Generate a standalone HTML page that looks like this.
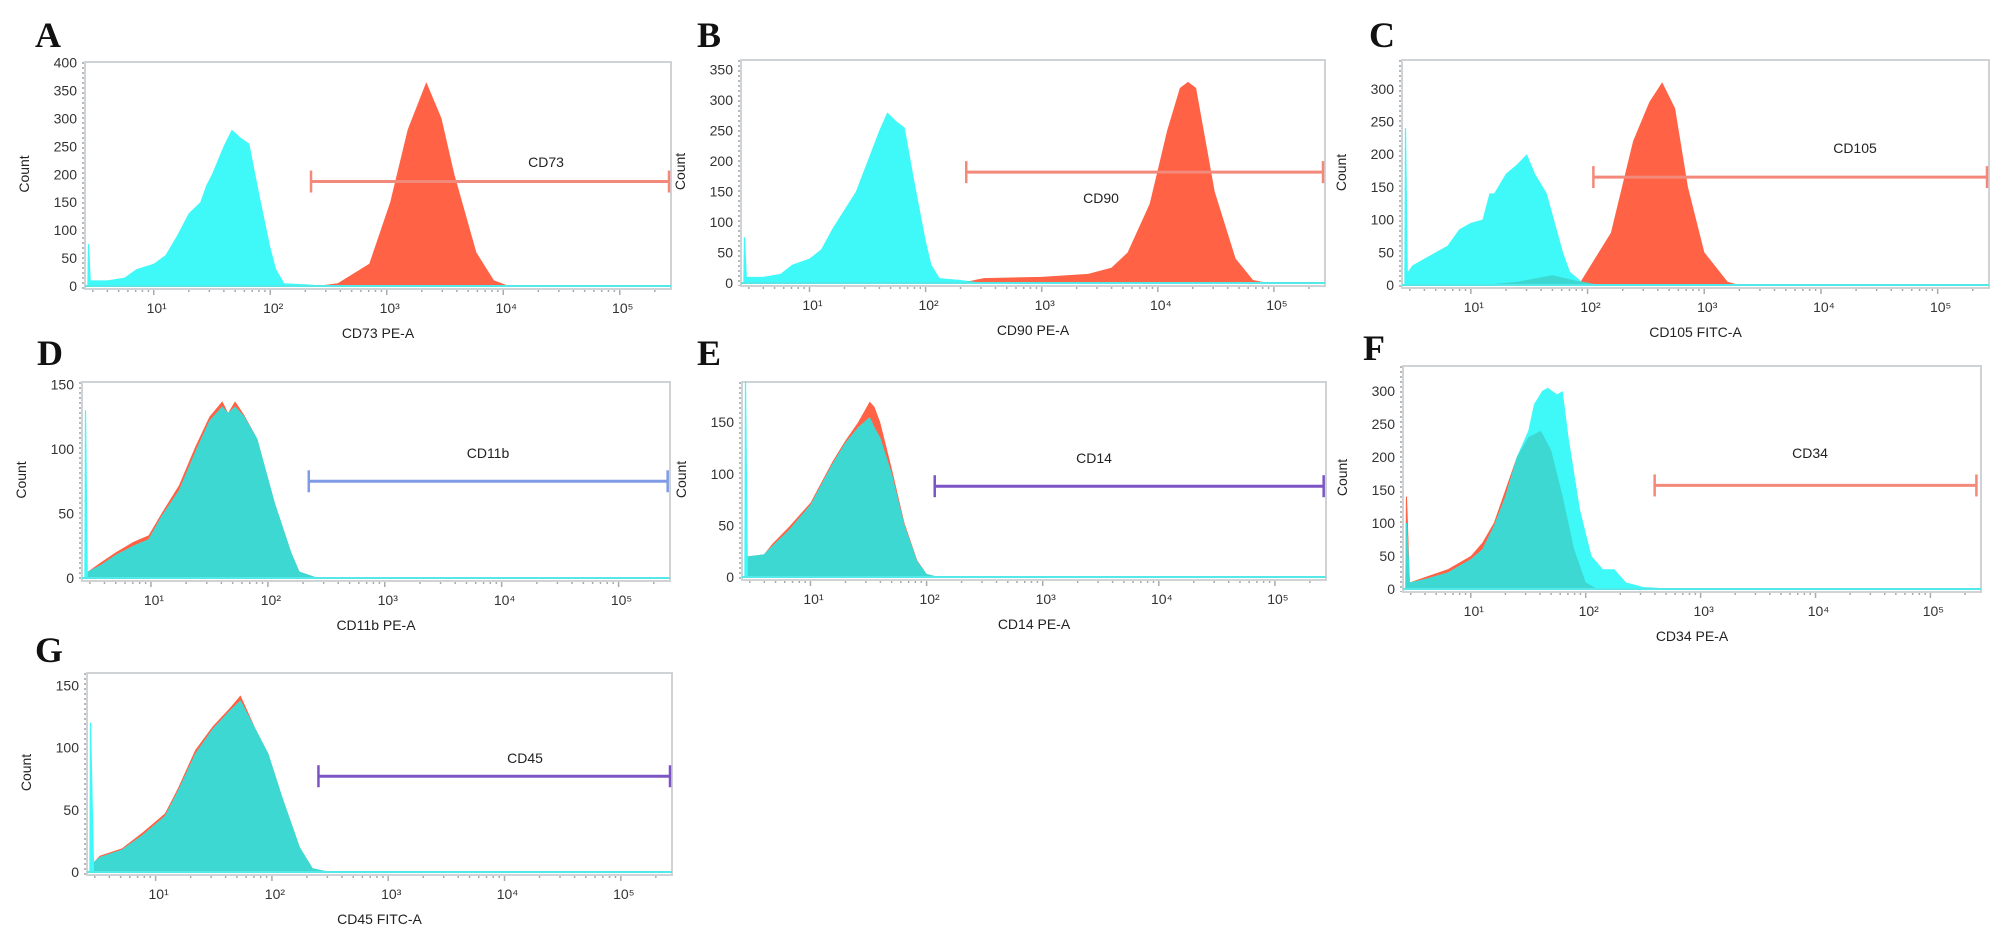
<!DOCTYPE html>
<html><head><meta charset="utf-8"><style>
body{margin:0;background:#fff;}
svg{display:block;font-family:"Liberation Sans",Arial,sans-serif;}
.tick{font-size:14px;fill:#333;}
.ttl{font-size:14px;fill:#222;}
.plab{font-family:"Liberation Serif",serif;font-weight:bold;font-size:36px;fill:#111;}
</style></head><body>
<svg id="fig" width="2008" height="948" viewBox="0 0 2008 948" xmlns="http://www.w3.org/2000/svg"></svg>
<script>
// ---- data (log10 fluorescence positions and counts) ----
const aCyanLog=[0.43,0.435,0.445,0.46,0.6,0.75,0.85,1.0,1.1,1.2,1.3,1.4,1.45,1.5,1.6,1.67,1.75,1.82,1.9,2.0,2.05,2.12,2.3,2.5];
const aCyanCnt=[0,75,75,10,10,15,30,40,55,90,130,150,180,200,250,280,265,255,170,70,30,5,3,0];
const aRedLog=[2.4,2.58,2.85,3.03,3.18,3.34,3.47,3.58,3.77,3.92,4.05];
const aRedCnt=[0,5,40,150,280,365,300,200,60,10,0];

const bCyanLog=[0.43,0.435,0.445,0.46,0.6,0.75,0.85,1.0,1.1,1.2,1.3,1.4,1.45,1.5,1.6,1.67,1.75,1.82,1.9,2.0,2.05,2.12,2.3,2.5];
const bCyanCnt=[0,75,75,10,10,15,30,40,55,90,120,150,175,200,250,280,265,255,170,70,30,8,5,0];
const bRedLog=[2.3,2.5,3.0,3.4,3.6,3.74,3.93,4.08,4.19,4.26,4.33,4.49,4.67,4.82,4.95];
const bRedCnt=[0,8,10,15,25,50,130,250,320,330,320,150,40,5,0];

const cCyanLog=[0.43,0.435,0.445,0.46,0.5,0.6,0.7,0.8,0.9,1.0,1.1,1.16,1.2,1.3,1.4,1.48,1.55,1.65,1.79,1.85,1.95,2.1];
const cCyanCnt=[0,240,240,20,30,40,50,60,85,95,100,140,140,170,185,200,170,140,50,20,5,0];
const cRedLog=[1.1,1.4,1.7,1.94,2.2,2.39,2.53,2.64,2.75,2.86,3.0,3.2,3.3];
const cRedCnt=[0,5,15,5,80,220,280,310,270,150,50,5,0];

const dCyanLog=[0.43,0.435,0.445,0.46,0.57,0.7,0.85,0.98,1.09,1.24,1.38,1.5,1.61,1.66,1.72,1.8,1.91,2.06,2.2,2.27,2.43];
const dCyanCnt=[0,130,130,5,10,18,25,30,48,68,98,122,133,128,133,125,108,58,20,5,0];
const dRedLog=[0.46,0.57,0.7,0.85,0.98,1.09,1.24,1.38,1.5,1.61,1.66,1.72,1.8,1.91,2.06,2.2,2.27,2.43];
const dRedCnt=[5,12,20,28,33,50,72,102,125,137,128,137,126,108,58,20,5,0];

const eCyanLog=[0.43,0.435,0.445,0.46,0.6,0.67,0.81,1.0,1.19,1.3,1.41,1.51,1.55,1.6,1.7,1.81,1.92,2.0,2.1];
const eCyanCnt=[0,190,190,20,22,30,45,70,110,130,145,155,145,135,100,50,15,3,0];
const eRedLog=[0.46,0.6,0.67,0.81,1.0,1.19,1.3,1.41,1.51,1.55,1.6,1.7,1.81,1.92,2.0,2.1];
const eRedCnt=[20,22,32,48,72,112,132,150,170,165,150,105,52,16,3,0];

const fCyanLog=[0.43,0.435,0.445,0.47,0.6,0.8,1.0,1.1,1.2,1.3,1.4,1.5,1.55,1.62,1.67,1.75,1.8,1.85,1.95,2.05,2.15,2.25,2.35,2.5,2.8];
const fCyanCnt=[0,100,100,10,15,25,45,60,95,140,200,240,280,300,305,295,300,230,120,50,30,30,10,3,0];
const fRedLog=[0.43,0.435,0.445,0.47,0.6,0.8,1.0,1.1,1.2,1.3,1.4,1.5,1.61,1.7,1.8,1.9,2.0,2.1];
const fRedCnt=[0,140,140,10,18,30,50,70,100,150,200,230,240,210,140,60,10,0];

const gCyanLog=[0.43,0.435,0.445,0.47,0.52,0.71,0.89,1.08,1.19,1.34,1.49,1.64,1.73,1.86,1.97,2.09,2.24,2.35,2.5];
const gCyanCnt=[0,120,120,8,12,18,30,45,65,95,115,130,138,115,95,60,20,3,0];
const gRedLog=[0.47,0.52,0.71,0.89,1.08,1.19,1.34,1.49,1.64,1.73,1.86,1.97,2.09,2.24,2.35,2.5];
const gRedCnt=[8,13,19,32,47,67,98,117,132,142,115,95,60,20,3,0];

const decadeLabels=["1","2","3","4","5"];
const aTicks=[0,50,100,150,200,250,300,350,400];
const bTicks=[0,50,100,150,200,250,300,350];
const cTicks=[0,50,100,150,200,250,300];
const dTicks=[0,50,100,150];
const eTicks=[0,50,100,150];
const fTicks=[0,50,100,150,200,250,300];
const gTicks=[0,50,100,150];

const NS="http://www.w3.org/2000/svg";
const svg=document.getElementById('fig');
function el(tag,attrs,parent){const e=document.createElementNS(NS,tag);for(const k in attrs)e.setAttribute(k,attrs[k]);(parent||svg).appendChild(e);return e;}
function sup(n){return ({"1":"¹","2":"²","3":"³","4":"⁴","5":"⁵"})[n];}

const panels=[
 {id:'a',letter:'A',lx:35,ly:47,L:85,R:671,T:62,Z:286,ymax:401,ticks:aTicks,cl:aCyanLog,cc:aCyanCnt,rl:aRedLog,rc:aRedCnt,gate:[2.35,5.43,187],gcol:'#f3897a',gname:'CD73',gtx:546,gty:167,title:'CD73 PE-A'},
 {id:'b',letter:'B',lx:697,ly:47,L:741,R:1325,T:60,Z:283,ymax:366,ticks:bTicks,cl:bCyanLog,cc:bCyanCnt,rl:bRedLog,rc:bRedCnt,gate:[2.35,5.44,182],gcol:'#f3897a',gname:'CD90',gtx:1101,gty:203,title:'CD90 PE-A'},
 {id:'c',letter:'C',lx:1369,ly:47,L:1402,R:1989,T:60,Z:285,ymax:344,ticks:cTicks,cl:cCyanLog,cc:cCyanCnt,rl:cRedLog,rc:cRedCnt,gate:[2.05,5.43,165],gcol:'#f3897a',gname:'CD105',gtx:1855,gty:153,title:'CD105 FITC-A'},
 {id:'d',letter:'D',lx:37,ly:365,L:82,R:670,T:382,Z:578,ymax:152,ticks:dTicks,cl:dCyanLog,cc:dCyanCnt,rl:dRedLog,rc:dRedCnt,gate:[2.35,5.42,75],gcol:'#7f9be6',gname:'CD11b',gtx:488,gty:458,title:'CD11b PE-A'},
 {id:'e',letter:'E',lx:697,ly:365,L:742,R:1326,T:382,Z:577,ymax:189,ticks:eTicks,cl:eCyanLog,cc:eCyanCnt,rl:eRedLog,rc:eRedCnt,gate:[2.07,5.42,88],gcol:'#7c55c4',gname:'CD14',gtx:1094,gty:463,title:'CD14 PE-A'},
 {id:'f',letter:'F',lx:1363,ly:360,L:1403,R:1981,T:366,Z:589,ymax:338,ticks:fTicks,cl:fCyanLog,cc:fCyanCnt,rl:fRedLog,rc:fRedCnt,gate:[2.6,5.4,157],gcol:'#f3897a',gname:'CD34',gtx:1810,gty:458,title:'CD34 PE-A'},
 {id:'g',letter:'G',lx:35,ly:662,L:87,R:672,T:673,Z:872,ymax:160,ticks:gTicks,cl:gCyanLog,cc:gCyanCnt,rl:gRedLog,rc:gRedCnt,gate:[2.4,5.43,77],gcol:'#7c55c4',gname:'CD45',gtx:525,gty:763,title:'CD45 FITC-A'}
];
const LMIN=0.41,LMAX=5.44;

panels.forEach(p=>{
  const g=el('g',{});
  
  
  const xs=v=>p.L+(v-LMIN)/(LMAX-LMIN)*(p.R-p.L);
  const ys=v=>p.Z-v/p.ymax*(p.Z-p.T);
  const lt=el('text',{x:p.lx,y:p.ly,class:'plab'},g);lt.textContent=p.letter;
  
  
  const box=el('rect',{x:p.L,y:p.T,width:p.R-p.L,height:p.Z+3-p.T,fill:'#fff',stroke:'#cfd3d6','stroke-width':2},g);
  
  
  const defs=el('defs',{},g);
  const cp=el('clipPath',{id:'cy'+p.id},defs);
  function areaPath(ls,cs){let d='M'+xs(ls[0]).toFixed(1)+','+p.Z;ls.forEach((l,i)=>{d+=' L'+xs(l).toFixed(1)+','+ys(cs[i]).toFixed(1);});d+=' L'+xs(ls[ls.length-1]).toFixed(1)+','+p.Z+' Z';return d;}
  const cyD=areaPath(p.cl,p.cc), rdD=areaPath(p.rl,p.rc);
  el('path',{d:cyD},cp);
  const red=el('path',{d:rdD,fill:'#ff6244'},g);
  
  
  const cy=el('path',{d:cyD,fill:'#3ff8f8'},g);
  
  
  const ov=el('path',{d:rdD,fill:'#3ed8d2','clip-path':'url(#cy'+p.id+')'},g);
  
  
  el('line',{x1:p.L,x2:p.R,y1:p.Z,y2:p.Z,stroke:'#55e8e8','stroke-width':2},g);
  const yax=el('g',{},g);
  
  
  el('line',{x1:p.L-2,x2:p.L-2,y1:p.T,y2:p.Z+3,stroke:'#b5b9bd','stroke-width':2,'stroke-dasharray':'2,3'},yax);
  p.ticks.forEach(t=>{
    const tx=el('text',{x:p.L-8,y:ys(t)+5,'text-anchor':'end',class:'tick'},yax);tx.textContent=t;
  });
  const ct=el('text',{x:0,y:0,class:'ttl',transform:'translate('+(p.L-56)+','+((p.T+p.Z)/2)+') rotate(-90)','text-anchor':'middle'},g);
  ct.textContent='Count';
  
  
  const xax=el('g',{},g);
  
  
  for(let d=0;d<=5;d++){for(let m=1;m<10;m++){const l=d+Math.log10(m);if(l<LMIN||l>LMAX)continue;
    el('line',{x1:xs(l),x2:xs(l),y1:p.Z+4,y2:p.Z+(m===1?9:6),stroke:'#aaa','stroke-width':1.5},xax);}}
  decadeLabels.forEach(n=>{
    const tx=el('text',{x:xs(+n)+3,y:p.Z+27,'text-anchor':'middle',class:'tick'},xax);tx.textContent='10'+sup(n);
  });
  const xt=el('text',{x:(p.L+p.R)/2,y:p.Z+52,'text-anchor':'middle',class:'ttl'},g);
  xt.textContent=p.title;
  
  
  const gg=el('g',{},g);
  
  
  const gx1=xs(p.gate[0]),gx2=Math.min(xs(p.gate[1]),p.R-2),gy=ys(p.gate[2]);
  el('line',{x1:gx1,x2:gx2,y1:gy,y2:gy,stroke:p.gcol,'stroke-width':3},gg);
  el('line',{x1:gx1,x2:gx1,y1:gy-11,y2:gy+11,stroke:p.gcol,'stroke-width':2.5},gg);
  el('line',{x1:gx2,x2:gx2,y1:gy-11,y2:gy+11,stroke:p.gcol,'stroke-width':2.5},gg);
  const gl=el('text',{x:p.gtx,y:p.gty,'text-anchor':'middle',class:'ttl'},g);
  gl.textContent=p.gname;
  
  
});
</script>
</body></html>
